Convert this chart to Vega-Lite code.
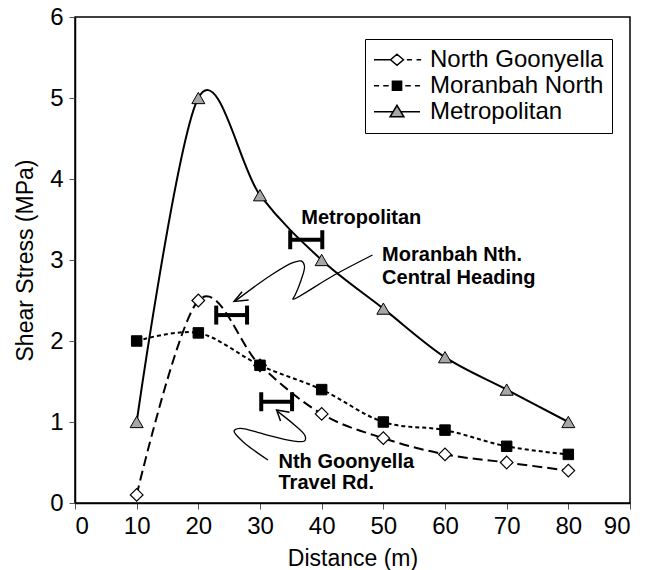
{
  "$schema": "https://vega.github.io/schema/vega-lite/v6.json",
  "width": 555,
  "height": 486,
  "autosize": {"type": "none"},
  "padding": {"left": 75, "top": 17, "right": 22, "bottom": 67},
  "background": "white",
  "config": {
    "font": "Liberation Sans",
    "view": {"stroke": "black", "strokeWidth": 1.5},
    "axis": {
      "labelFont": "Liberation Sans", "labelFontSize": 24, "labelColor": "black",
      "titleFont": "Liberation Sans", "titleFontSize": 23, "titleFontWeight": "normal", "titleColor": "black",
      "domainColor": "black", "domainWidth": 1.5, "tickColor": "#555", "tickSize": 6, "grid": false
    }
  },
  "datasets": {
    "series": [
      {"series": "North Goonyella", "x": 10, "y": 0.1},
      {"series": "North Goonyella", "x": 20, "y": 2.5},
      {"series": "North Goonyella", "x": 30, "y": 1.7},
      {"series": "North Goonyella", "x": 40, "y": 1.1},
      {"series": "North Goonyella", "x": 50, "y": 0.8},
      {"series": "North Goonyella", "x": 60, "y": 0.6},
      {"series": "North Goonyella", "x": 70, "y": 0.5},
      {"series": "North Goonyella", "x": 80, "y": 0.4},
      {"series": "Moranbah North", "x": 10, "y": 2.0},
      {"series": "Moranbah North", "x": 20, "y": 2.1},
      {"series": "Moranbah North", "x": 30, "y": 1.7},
      {"series": "Moranbah North", "x": 40, "y": 1.4},
      {"series": "Moranbah North", "x": 50, "y": 1.0},
      {"series": "Moranbah North", "x": 60, "y": 0.9},
      {"series": "Moranbah North", "x": 70, "y": 0.7},
      {"series": "Moranbah North", "x": 80, "y": 0.6},
      {"series": "Metropolitan", "x": 10, "y": 1.0},
      {"series": "Metropolitan", "x": 20, "y": 5.0},
      {"series": "Metropolitan", "x": 30, "y": 3.8},
      {"series": "Metropolitan", "x": 40, "y": 3.0},
      {"series": "Metropolitan", "x": 50, "y": 2.4},
      {"series": "Metropolitan", "x": 60, "y": 1.8},
      {"series": "Metropolitan", "x": 70, "y": 1.4},
      {"series": "Metropolitan", "x": 80, "y": 1.0}
    ],
    "rangebars": [
      {"x1": 34.9, "x2": 40.1, "y": 3.25},
      {"x1": 22.9, "x2": 27.9, "y": 2.32},
      {"x1": 30.2, "x2": 35.2, "y": 1.25}
    ],
    "labels": [
      {"x": 36.7, "y": 3.52, "text": "Metropolitan"},
      {"x": 49.8, "y": 3.06, "text": "Moranbah Nth."},
      {"x": 49.8, "y": 2.78, "text": "Central Heading"},
      {"x": 33.0, "y": 0.51, "text": "Nth Goonyella"},
      {"x": 33.0, "y": 0.25, "text": "Travel Rd."}
    ],
    "curves": [
      {"path": "a1", "i": 0, "x": 48.25, "y": 3.062},
      {"path": "a1", "i": 1, "x": 42.05, "y": 2.815},
      {"path": "a1", "i": 2, "x": 35.33, "y": 2.515},
      {"path": "a1", "i": 3, "x": 35.70, "y": 2.568},
      {"path": "a1", "i": 4, "x": 36.67, "y": 2.753},
      {"path": "a1", "i": 5, "x": 37.21, "y": 2.926},
      {"path": "a1", "i": 6, "x": 36.67, "y": 2.988},
      {"path": "a1", "i": 7, "x": 35.33, "y": 2.967},
      {"path": "a1", "i": 8, "x": 31.83, "y": 2.815},
      {"path": "a1", "i": 9, "x": 25.90, "y": 2.489},
      {"path": "a2", "i": 0, "x": 32.90, "y": 1.128},
      {"path": "a2", "i": 1, "x": 35.59, "y": 0.963},
      {"path": "a2", "i": 2, "x": 37.32, "y": 0.827},
      {"path": "a2", "i": 3, "x": 37.21, "y": 0.765},
      {"path": "a2", "i": 4, "x": 35.06, "y": 0.770},
      {"path": "a2", "i": 5, "x": 30.75, "y": 0.848},
      {"path": "a2", "i": 6, "x": 26.71, "y": 0.922},
      {"path": "a2", "i": 7, "x": 25.80, "y": 0.889},
      {"path": "a2", "i": 8, "x": 27.25, "y": 0.757},
      {"path": "a2", "i": 9, "x": 31.29, "y": 0.531}
    ],
    "heads": [
      {"path": "h1", "i": 0, "x": 27.09, "y": 2.609},
      {"path": "h1", "i": 1, "x": 25.80, "y": 2.489},
      {"path": "h1", "i": 2, "x": 28.16, "y": 2.506},
      {"path": "h2", "i": 0, "x": 33.33, "y": 1.012},
      {"path": "h2", "i": 1, "x": 32.69, "y": 1.148},
      {"path": "h2", "i": 2, "x": 34.79, "y": 1.119}
    ]
  },
  "layer": [
    {
      "data": {"name": "series"},
      "transform": [{"filter": {"field": "series", "equal": "North Goonyella"}}],
      "mark": {"type": "line", "interpolate": "cardinal", "tension": 0, "stroke": "black", "strokeWidth": 2, "strokeDash": [10, 5]},
      "encoding": {
        "x": {"field": "x", "type": "quantitative", "title": "Distance (m)",
              "scale": {"domain": [0, 90], "nice": false},
              "axis": {"values": [0, 10, 20, 30, 40, 50, 60, 70, 80, 90], "labelPadding": 5, "titlePadding": 9}},
        "y": {"field": "y", "type": "quantitative", "title": "Shear Stress (MPa)",
              "scale": {"domain": [0, 6], "nice": false},
              "axis": {"values": [0, 1, 2, 3, 4, 5, 6], "format": "d", "labelPadding": 6, "titlePadding": 12}}
      }
    },
    {
      "data": {"name": "series"},
      "transform": [{"filter": {"field": "series", "equal": "Moranbah North"}}],
      "mark": {"type": "line", "interpolate": "cardinal", "tension": 0, "stroke": "black", "strokeWidth": 2, "strokeDash": [4, 3]},
      "encoding": {
        "x": {"field": "x", "type": "quantitative"},
        "y": {"field": "y", "type": "quantitative"}
      }
    },
    {
      "data": {"name": "series"},
      "transform": [{"filter": {"field": "series", "equal": "Metropolitan"}}],
      "mark": {"type": "line", "interpolate": "cardinal", "tension": 0, "stroke": "black", "strokeWidth": 2},
      "encoding": {
        "x": {"field": "x", "type": "quantitative"},
        "y": {"field": "y", "type": "quantitative"}
      }
    },
    {
      "data": {"name": "series"},
      "transform": [{"filter": {"field": "series", "equal": "North Goonyella"}}],
      "mark": {"type": "point", "shape": "diamond", "filled": true, "fill": "white", "stroke": "black", "strokeWidth": 1.2, "size": 160, "opacity": 1},
      "encoding": {
        "x": {"field": "x", "type": "quantitative"},
        "y": {"field": "y", "type": "quantitative"}
      }
    },
    {
      "data": {"name": "series"},
      "transform": [{"filter": {"field": "series", "equal": "Moranbah North"}}],
      "mark": {"type": "point", "shape": "square", "filled": true, "fill": "black", "stroke": "black", "strokeWidth": 1, "size": 110, "opacity": 1},
      "encoding": {
        "x": {"field": "x", "type": "quantitative"},
        "y": {"field": "y", "type": "quantitative"}
      }
    },
    {
      "data": {"name": "series"},
      "transform": [{"filter": {"field": "series", "equal": "Metropolitan"}}],
      "mark": {"type": "point", "shape": "triangle-up", "filled": true, "fill": "#a6a6a6", "stroke": "black", "strokeWidth": 1, "size": 170, "opacity": 1},
      "encoding": {
        "x": {"field": "x", "type": "quantitative"},
        "y": {"field": "y", "type": "quantitative"}
      }
    },
    {
      "data": {"name": "series"},
      "mark": {"type": "point", "filled": true, "strokeWidth": 1.5, "opacity": 0},
      "encoding": {
        "x": {"field": "x", "type": "quantitative"},
        "y": {"field": "y", "type": "quantitative"},
        "stroke": {"field": "series", "type": "nominal",
                   "scale": {"domain": ["North Goonyella", "Moranbah North", "Metropolitan"], "range": ["black", "black", "black"]}},
        "fill": {"field": "series", "type": "nominal",
                 "scale": {"domain": ["North Goonyella", "Moranbah North", "Metropolitan"], "range": ["white", "black", "#a6a6a6"]}},
        "shape": {"field": "series", "type": "nominal",
                  "scale": {"domain": ["North Goonyella", "Moranbah North", "Metropolitan"],
                            "range": ["M-1,0H-0.28M0,-0.24L0.28,0L0,0.24L-0.28,0ZM0.43,0H0.65M0.85,0H1.05",
                                      "M-1,0H-0.78M-0.6,0H-0.36M-0.2,-0.2H0.2V0.2H-0.2ZM0.36,0H0.6M0.78,0H1",
                                      "M-1,0H-0.17M0,-0.28L0.3,0.22H-0.3ZM0.17,0H1"]},
                  "legend": {
                    "orient": "none", "legendX": 290, "legendY": 22, "title": null,
                    "strokeColor": "black", "fillColor": "white", "padding": 8, "cornerRadius": 0,
                    "symbolSize": 2116, "symbolOpacity": 1, "symbolStrokeWidth": 1.5,
                    "clipHeight": 25.5, "rowPadding": 0,
                    "labelFont": "Liberation Sans", "labelFontSize": 24, "labelColor": "black", "labelOffset": 9, "labelLimit": 400
                  }}
      }
    },
    {
      "data": {"name": "rangebars"},
      "mark": {"type": "rule", "stroke": "black", "strokeWidth": 4},
      "encoding": {
        "x": {"field": "x1", "type": "quantitative"},
        "x2": {"field": "x2"},
        "y": {"field": "y", "type": "quantitative"}
      }
    },
    {
      "data": {"name": "rangebars"},
      "mark": {"type": "tick", "orient": "vertical", "color": "black", "thickness": 4, "size": 19, "opacity": 1},
      "encoding": {
        "x": {"field": "x1", "type": "quantitative"},
        "y": {"field": "y", "type": "quantitative"}
      }
    },
    {
      "data": {"name": "rangebars"},
      "mark": {"type": "tick", "orient": "vertical", "color": "black", "thickness": 4, "size": 19, "opacity": 1},
      "encoding": {
        "x": {"field": "x2", "type": "quantitative"},
        "y": {"field": "y", "type": "quantitative"}
      }
    },
    {
      "data": {"name": "curves"},
      "mark": {"type": "line", "interpolate": "catmull-rom", "stroke": "black", "strokeWidth": 1.3},
      "encoding": {
        "x": {"field": "x", "type": "quantitative"},
        "y": {"field": "y", "type": "quantitative"},
        "detail": {"field": "path"},
        "order": {"field": "i", "type": "quantitative"}
      }
    },
    {
      "data": {"name": "heads"},
      "mark": {"type": "line", "stroke": "black", "strokeWidth": 1.5},
      "encoding": {
        "x": {"field": "x", "type": "quantitative"},
        "y": {"field": "y", "type": "quantitative"},
        "detail": {"field": "path"},
        "order": {"field": "i", "type": "quantitative"}
      }
    },
    {
      "data": {"name": "labels"},
      "mark": {"type": "text", "align": "left", "baseline": "middle", "font": "Liberation Sans", "fontWeight": "bold", "fontSize": 20, "color": "black"},
      "encoding": {
        "x": {"field": "x", "type": "quantitative"},
        "y": {"field": "y", "type": "quantitative"},
        "text": {"field": "text"}
      }
    }
  ]
}
